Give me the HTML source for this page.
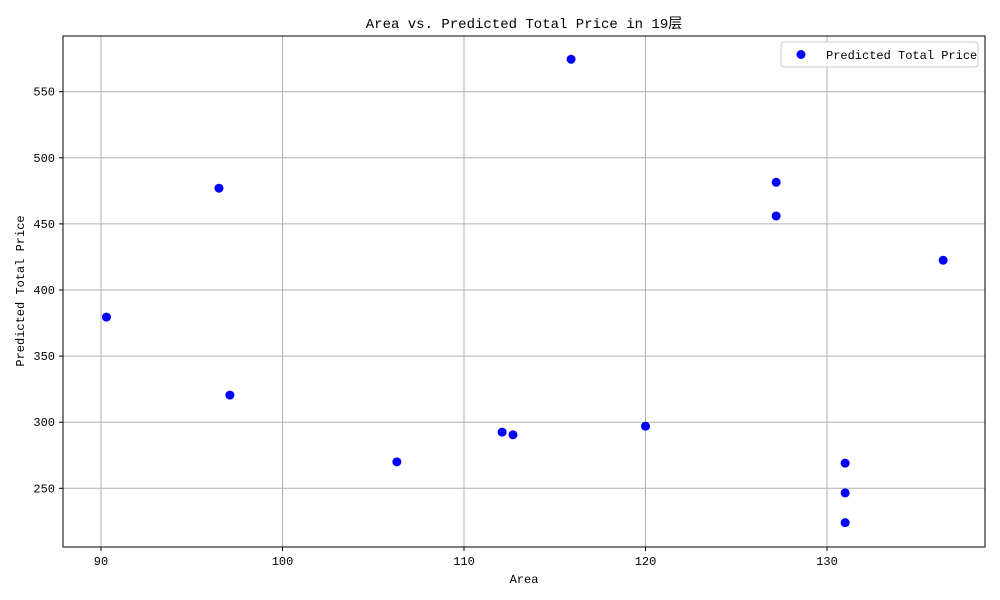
<!DOCTYPE html>
<html><head><meta charset="utf-8"><style>
body{margin:0;background:#fff;}
svg{display:block;font-family:"Liberation Mono","WenQuanYi Zen Hei",monospace;}
</style></head><body>
<svg id="chart" width="1000" height="600">
<text x="524" y="28" text-anchor="middle" font-size="14">Area vs. Predicted Total Price in 19层</text>
<g id="grid"></g>
<g id="pts"></g>
<rect x="63" y="36" width="922" height="511" fill="none" stroke="#000" stroke-width="1"/>
<g id="ticks" font-size="12"></g>
<text x="524" y="583" text-anchor="middle" font-size="12">Area</text>
<text transform="translate(24,291) rotate(-90)" text-anchor="middle" font-size="12">Predicted Total Price</text>
<g>
<rect x="781" y="42" width="197" height="25" fill="#fff" stroke="#ccc" rx="3"/>
<circle cx="801" cy="54.5" r="4.5" fill="#0000ff"/>
<text x="826" y="59" font-size="12">Predicted Total Price</text>
</g>
</svg>
<script>
const xTicks=[90,100,110,120,130];
const yTicks=[250,300,350,400,450,500,550];
const areas=[90.3,96.5,97.1,106.3,112.1,112.7,115.9,120,127.2,127.2,131,131,131,136.4];
const prices=[379.5,477,320.5,270,292.5,290.5,574.5,297,481.5,456,269,246.5,224,422.5];
const X=v=>101+(v-90)*18.15;
const Y=v=>290+(400-v)*1.322;
const ns="http://www.w3.org/2000/svg";
const g=document.getElementById('grid'),t=document.getElementById('ticks'),p=document.getElementById('pts');
function mk(par,tag,a){const e=document.createElementNS(ns,tag);for(const k in a)e.setAttribute(k,a[k]);par.appendChild(e);return e;}
xTicks.forEach(v=>{
 const l=mk(g,'line',{x1:X(v),x2:X(v),y1:36,y2:547,stroke:'#b0b0b0','stroke-width':1});
 
 
 mk(t,'line',{x1:X(v),x2:X(v),y1:547,y2:551,stroke:'#000'});
 const tx=mk(t,'text',{x:X(v),y:565,'text-anchor':'middle'});tx.textContent=v;
 
 
});
yTicks.forEach(v=>{
 const l=mk(g,'line',{x1:63,x2:985,y1:Y(v),y2:Y(v),stroke:'#b0b0b0','stroke-width':1});
 
 
 mk(t,'line',{x1:59,x2:63,y1:Y(v),y2:Y(v),stroke:'#000'});
 const tx=mk(t,'text',{x:55,y:Y(v)+4,'text-anchor':'end'});tx.textContent=v;
 
 
});
areas.forEach((a,i)=>{
 const c=mk(p,'circle',{cx:X(a),cy:Y(prices[i]),r:4.5,fill:'#0000ff'});
 
 
});
</script>
</body></html>
